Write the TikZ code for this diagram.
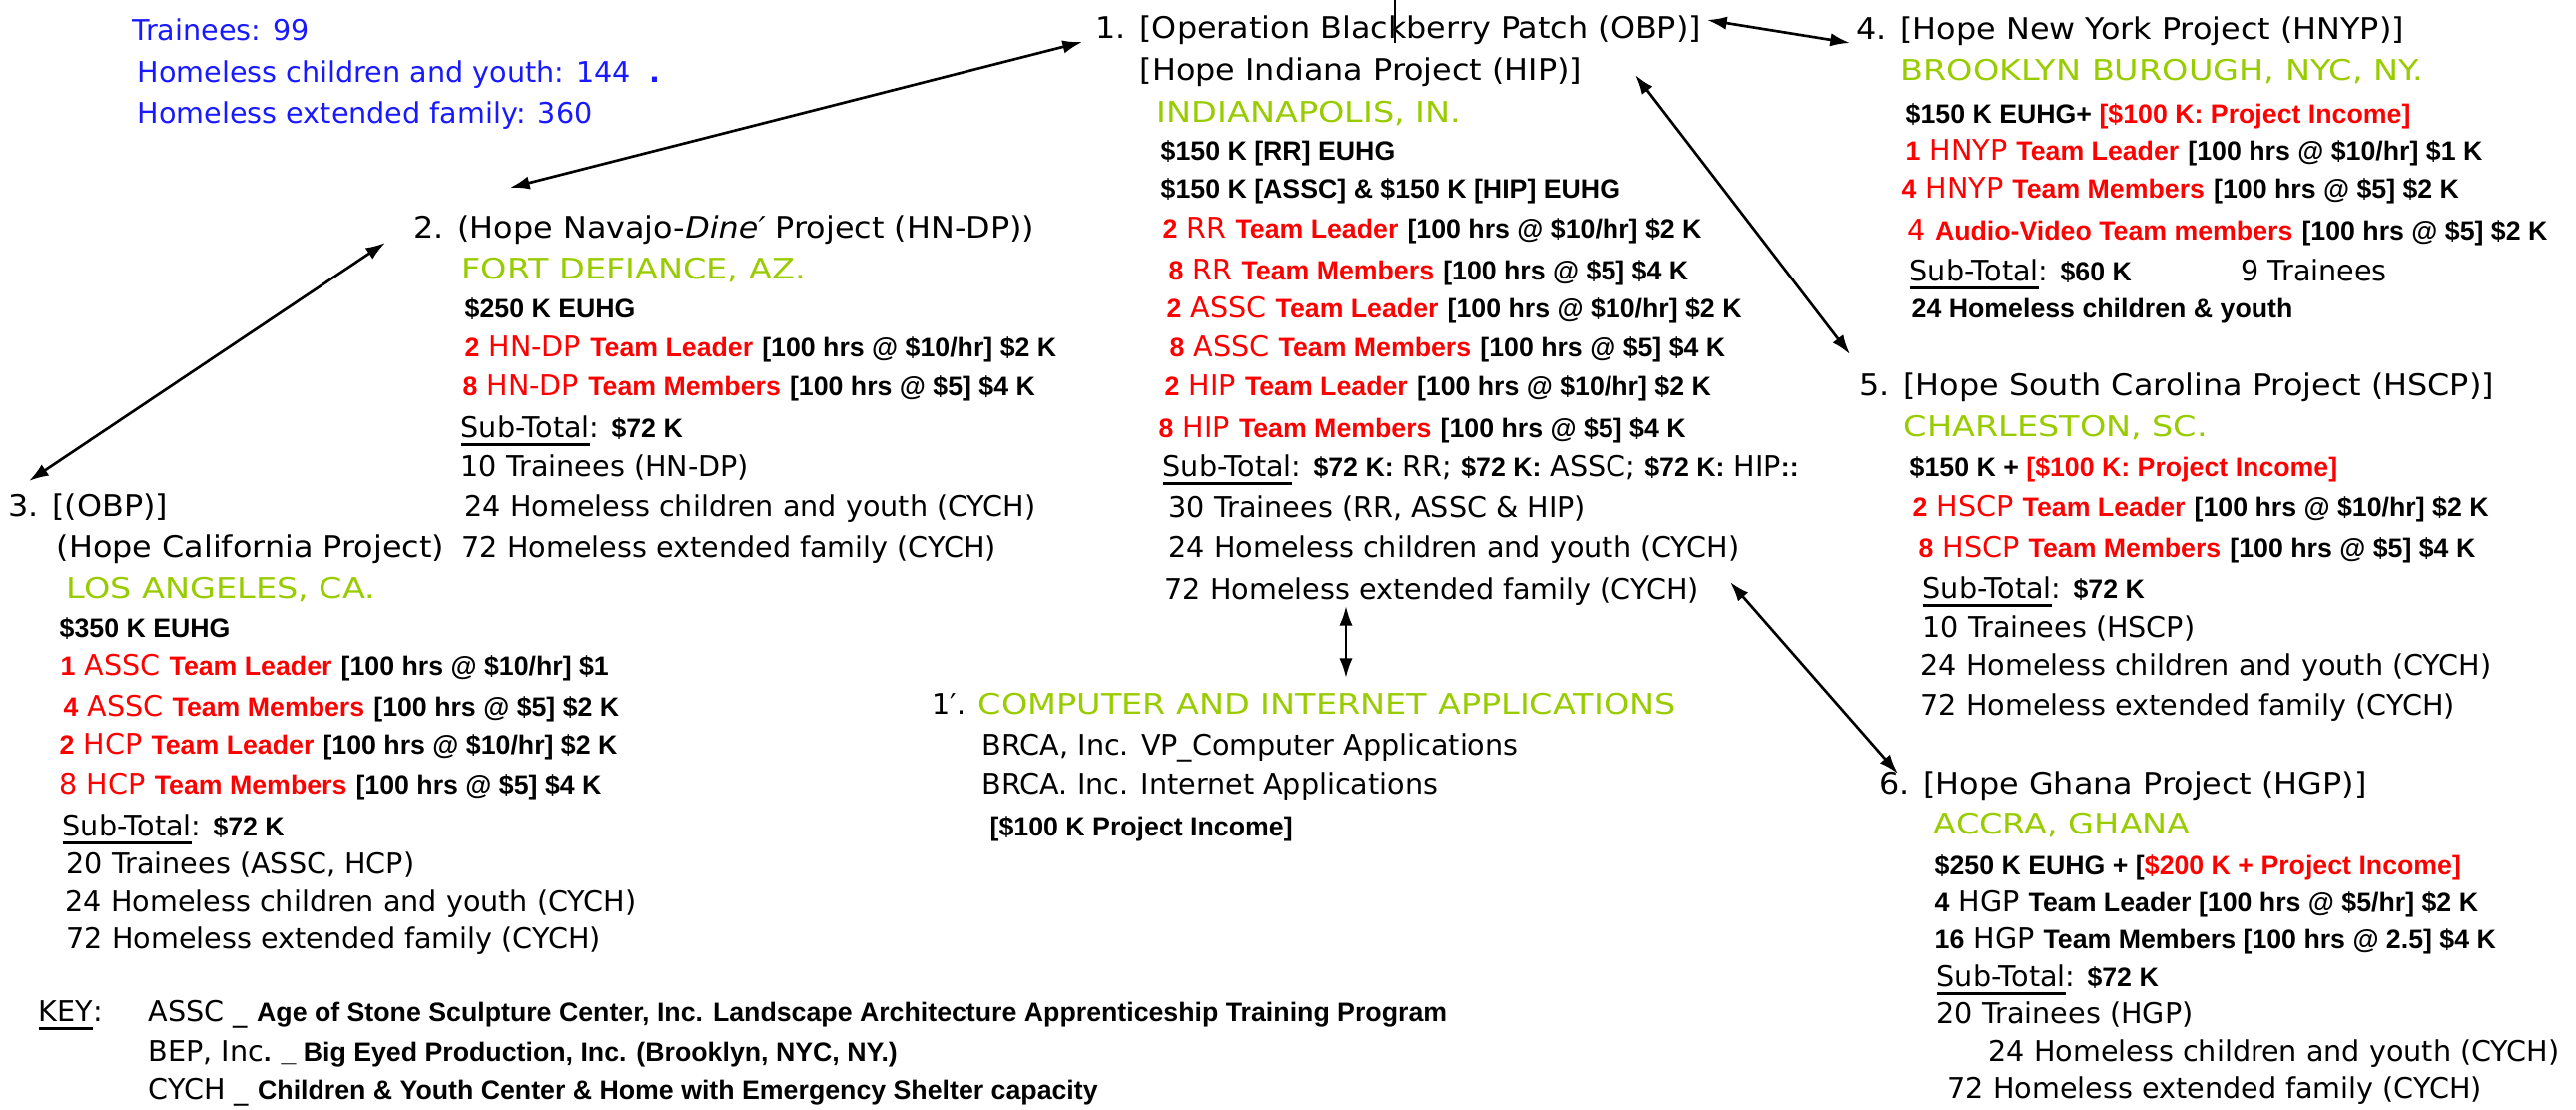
\documentclass[tikz,border=0pt]{standalone}
\usepackage{fontspec}
\setmainfont{DejaVu Sans}
\newfontfamily\arialfam{Liberation Sans}
\newfontfamily\hdfont[FakeStretch=1.065]{DejaVu Sans}
\newfontfamily\cityfont[FakeStretch=1.17]{DejaVu Sans}
\usepackage{xcolor}
\usetikzlibrary{arrows.meta}

\definecolor{totBlue}{RGB}{25,25,255}
\definecolor{cityGreen}{RGB}{153,204,0}
\definecolor{teamRed}{RGB}{255,0,0}

\newcommand\bx[1]{{\arialfam\bfseries\fontsize{7.6}{9}\selectfont #1}}
\newcommand\rd[1]{\textcolor{teamRed}{#1}}
\newcommand\ulx[1]{\setbox0\hbox{#1}\rlap{\rule[-2.4pt]{\wd0}{0.75pt}}\box0}

\begin{document}
\begin{tikzpicture}[x=0.01cm,y=-0.01cm]
\tikzstyle{txt}=[anchor=west, inner sep=0pt, text height=5.9pt, text depth=0pt, font=\fontsize{8.14}{10}\selectfont]
\tikzstyle{head}=[txt, font=\hdfont\fontsize{8.5}{10}\selectfont]
\tikzstyle{city}=[txt, text=cityGreen, font=\cityfont\fontsize{8.14}{10}\selectfont]
\tikzstyle{tot}=[txt, text=totBlue]
\tikzstyle{link}=[{Latex[length=5.6pt,width=3.8pt]}-{Latex[length=5.6pt,width=3.8pt]}, line width=0.75pt]

\useasboundingbox (0,0) rectangle (2580,1112);

% totals
\node (trn) [tot] at (132,30) {Trainees: 99};
\node (kids) [tot] at (137,72) {Homeless children and youth: 144~~\textbf{.}};
\node (fam) [tot] at (137,113) {Homeless extended family: 360};

% 1. OBP / HIP
\node (obp) [head] at (1097,28) {1. [Operation Blackberry Patch (OBP)]};
\node (hip) [head] at (1141,70) {[Hope Indiana Project (HIP)]};
\node (indy) [city] at (1158,112) {INDIANAPOLIS, IN.};
\node (b1a) [txt] at (1162,150) {\bx{\$150 K [RR] EUHG}};
\node (b1b) [txt] at (1162,188) {\bx{\$150 K [ASSC] \& \$150 K [HIP] EUHG}};
\node (b1c) [txt] at (1164,228) {\rd{\bx{2} RR \bx{Team Leader}} \bx{[100 hrs @ \$10/hr] \$2 K}};
\node (b1d) [txt] at (1170,270) {\rd{\bx{8} RR \bx{Team Members}} \bx{[100 hrs @ \$5] \$4 K}};
\node (b1e) [txt] at (1168,308) {\rd{\bx{2} ASSC \bx{Team Leader}} \bx{[100 hrs @ \$10/hr] \$2 K}};
\node (b1f) [txt] at (1171,347) {\rd{\bx{8} ASSC \bx{Team Members}} \bx{[100 hrs @ \$5] \$4 K}};
\node (b1g) [txt] at (1166,386) {\rd{\bx{2} HIP \bx{Team Leader}} \bx{[100 hrs @ \$10/hr] \$2 K}};
\node (b1h) [txt] at (1160,428) {\rd{\bx{8} HIP \bx{Team Members}} \bx{[100 hrs @ \$5] \$4 K}};
\node (b1i) [txt] at (1164,467) {\ulx{Sub-Total}: \bx{\$72 K:} RR; \bx{\$72 K:} ASSC; \bx{\$72 K:} HIP\bx{::}};
\node (b1j) [txt] at (1170,508) {30 Trainees (RR, ASSC \& HIP)};
\node (b1k) [txt] at (1170,548) {24 Homeless children and youth (CYCH)};
\node (b1l) [txt] at (1166,590) {72 Homeless extended family (CYCH)};

% 2. HN-DP
\node (hnd) [head] at (414,228) {2. (Hope Navajo-\textit{Dine′} Project (HN-DP))};
\node (fort) [city] at (462,269) {FORT DEFIANCE, AZ.};
\node (b2a) [txt] at (465,308) {\bx{\$250 K EUHG}};
\node (b2b) [txt] at (465,347) {\rd{\bx{2} HN-DP \bx{Team Leader}} \bx{[100 hrs @ \$10/hr] \$2 K}};
\node (b2c) [txt] at (463,386) {\rd{\bx{8} HN-DP \bx{Team Members}} \bx{[100 hrs @ \$5] \$4 K}};
\node (b2d) [txt] at (461,428) {\ulx{Sub-Total}: \bx{\$72 K}};
\node (b2e) [txt] at (461,467) {10 Trainees (HN-DP)};
\node (b2f) [txt] at (465,507) {24 Homeless children and youth (CYCH)};
\node (b2g) [txt] at (462,548) {72 Homeless extended family (CYCH)};

% 3. California
\node (cal) [head] at (8,507) {3. [(OBP)]};
\node (calb) [head] at (56,548) {(Hope California Project)};
\node (la) [city] at (66,589) {LOS ANGELES, CA.};
\node (b3a) [txt] at (59,628) {\bx{\$350 K EUHG}};
\node (b3b) [txt] at (60,666) {\rd{\bx{1} ASSC \bx{Team Leader}} \bx{[100 hrs @ \$10/hr] \$1}};
\node (b3c) [txt] at (63,707) {\rd{\bx{4} ASSC \bx{Team Members}} \bx{[100 hrs @ \$5] \$2 K}};
\node (b3d) [txt] at (59,745) {\rd{\bx{2} HCP \bx{Team Leader}} \bx{[100 hrs @ \$10/hr] \$2 K}};
\node (b3e) [txt] at (59,785) {\rd{8 HCP \bx{Team Members}} \bx{[100 hrs @ \$5] \$4 K}};
\node (b3f) [txt] at (62,827) {\ulx{Sub-Total}: \bx{\$72 K}};
\node (b3g) [txt] at (66,865) {20 Trainees (ASSC, HCP)};
\node (b3h) [txt] at (65,903) {24 Homeless children and youth (CYCH)};
\node (b3i) [txt] at (66,940) {72 Homeless extended family (CYCH)};

% 4. New York
\node (ny) [head] at (1859,29) {4. [Hope New York Project (HNYP)]};
\node (bkn) [city] at (1903,70) {BROOKLYN BUROUGH, NYC, NY.};
\node (b4a) [txt] at (1908,113) {\bx{\$150 K EUHG+ \rd{[\$100 K: Project Income]}}};
\node (b4b) [txt] at (1908,150) {\rd{\bx{1} HNYP \bx{Team Leader}} \bx{[100 hrs @ \$10/hr] \$1 K}};
\node (b4c) [txt] at (1904,188) {\rd{\bx{4} HNYP \bx{Team Members}} \bx{[100 hrs @ \$5] \$2 K}};
\node (b4d) [txt] at (1910,230) {\rd{4 \bx{Audio-Video Team members}} \bx{[100 hrs @ \$5] \$2 K}};
\node (b4e) [txt] at (1912,271) {\ulx{Sub-Total}: \bx{\$60 K}};
\node (b4f) [txt] at (2244,271) {9 Trainees};
\node (b4g) [txt] at (1914,308) {\bx{24 Homeless children \& youth}};

% 5. South Carolina
\node (sc) [head] at (1862,386) {5. [Hope South Carolina Project (HSCP)]};
\node (chs) [city] at (1906,427) {CHARLESTON, SC.};
\node (b5a) [txt] at (1912,467) {\bx{\$150 K + \rd{[\$100 K: Project Income]}}};
\node (b5b) [txt] at (1915,507) {\rd{\bx{2} HSCP \bx{Team Leader}} \bx{[100 hrs @ \$10/hr] \$2 K}};
\node (b5c) [txt] at (1921,548) {\rd{\bx{8} HSCP \bx{Team Members}} \bx{[100 hrs @ \$5] \$4 K}};
\node (b5d) [txt] at (1925,589) {\ulx{Sub-Total}: \bx{\$72 K}};
\node (b5e) [txt] at (1925,628) {10 Trainees (HSCP)};
\node (b5f) [txt] at (1923,666) {24 Homeless children and youth (CYCH)};
\node (b5g) [txt] at (1923,706) {72 Homeless extended family (CYCH)};

% 6. Ghana
\node (gh) [head] at (1882,785) {6. [Hope Ghana Project (HGP)]};
\node (acc) [city] at (1936,825) {ACCRA, GHANA};
\node (b6a) [txt] at (1937,866) {\bx{\$250 K EUHG + [\rd{\$200 K + Project Income]}}};
\node (b6b) [txt] at (1937,903) {\bx{4} HGP \bx{Team Leader [100 hrs @ \$5/hr] \$2 K}};
\node (b6c) [txt] at (1937,940) {\bx{16} HGP \bx{Team Members [100 hrs @ 2.5] \$4 K}};
\node (b6d) [txt] at (1939,978) {\ulx{Sub-Total}: \bx{\$72 K}};
\node (b6e) [txt] at (1939,1015) {20 Trainees (HGP)};
\node (b6f) [txt] at (1991,1053) {24 Homeless children and youth (CYCH)};
\node (b6g) [txt] at (1950,1090) {72 Homeless extended family (CYCH)};

% 1'. computer
\node (cmp) [txt] at (933,705) {1′. {\cityfont\color{cityGreen}COMPUTER AND INTERNET APPLICATIONS}};
\node (cmpa) [txt] at (983,746) {BRCA, Inc. VP\_Computer Applications};
\node (cmpb) [txt] at (983,785) {BRCA. Inc. Internet Applications};
\node (cmpc) [txt] at (991,827) {\bx{[\$100 K Project Income]}};

% key
\node (key) [txt] at (38,1013) {\ulx{KEY}:};
\node (k1) [txt] at (148,1013) {ASSC \_ \bx{Age of Stone Sculpture Center, Inc. Landscape Architecture Apprenticeship Training Program}};
\node (k2) [txt] at (148,1053) {BEP, Inc\bx{. \_ Big Eyed Production, Inc. (Brooklyn, NYC, NY.)}};
\node (k3) [txt] at (148,1091) {CYCH \_ \bx{Children \& Youth Center \& Home with Emergency Shelter capacity}};

% links
\draw[link] ([shift={(-13,14)}]obp.west) -- ([shift={(97,-40)}]hnd.west);
\draw[link] ([shift={(-28,15)}]hnd.west) -- ([shift={(21,-25)}]cal.west);
\draw[link] ([shift={(613,-8)}]obp.west) -- ([shift={(-6,14)}]ny.west);
\draw[link] ([shift={(497,5)}]hip.west) -- ([shift={(-9,-31)}]sc.west);
\draw[link] ([shift={(567,-7)}]b1l.west) -- ([shift={(19,-10)}]gh.west);
\draw[link] ([shift={(182,17)}]b1l.west) -- ([shift={(182,89)}]b1l.west);
\draw[line width=0.5pt] ([shift={(300,-28)}]obp.west) -- ([shift={(300,15)}]obp.west);

\end{tikzpicture}
\end{document}
